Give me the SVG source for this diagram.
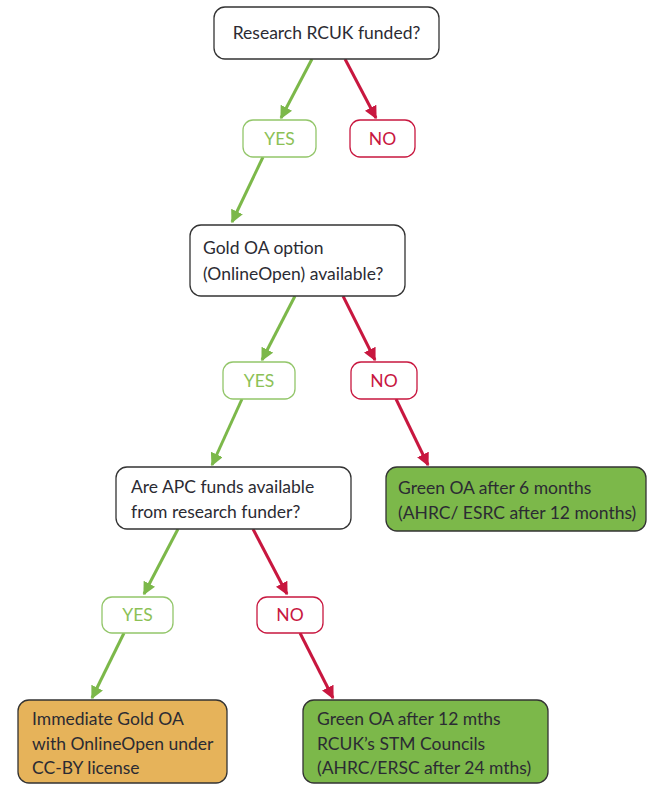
<svg xmlns="http://www.w3.org/2000/svg" width="648" height="785" viewBox="0 0 648 785">
<defs>
<marker id="ag" viewBox="0 0 10 10" refX="9" refY="5" markerWidth="4.3" markerHeight="4.3" orient="auto" markerUnits="strokeWidth"><path d="M0,0 L10,5 L0,10 z" fill="#7cb84a"/></marker>
<marker id="ar" viewBox="0 0 10 10" refX="9" refY="5" markerWidth="4.3" markerHeight="4.3" orient="auto" markerUnits="strokeWidth"><path d="M0,0 L10,5 L0,10 z" fill="#c8173f"/></marker>
<style>
text{font-family:Lato,"Open Sans",sans-serif;font-size:17.5px;fill:#2b2b33}
.q{fill:#fff;stroke:#333;stroke-width:1.3}
.y{fill:#fff;stroke:#93c66a;stroke-width:1.3}
.n{fill:#fff;stroke:#c8173f;stroke-width:1.3}
.yt{fill:#8cc156;text-anchor:middle}
.nt{fill:#c8173f;text-anchor:middle}
.gr{fill:#7cb84a;stroke:#333;stroke-width:1.3}
.or{fill:#e6b35a;stroke:#333;stroke-width:1.3}
.lg{stroke:#7cb84a;stroke-width:3;fill:none;marker-end:url(#ag)}
.lr{stroke:#c8173f;stroke-width:3;fill:none;marker-end:url(#ar)}
</style>
</defs>
<g id="connectors">
<line class="lg" x1="312" y1="59" x2="281" y2="118"/>
<line class="lr" x1="345" y1="59" x2="376" y2="118"/>
<line class="lg" x1="263" y1="157" x2="232" y2="222"/>
<line class="lg" x1="295" y1="296" x2="262" y2="360"/>
<line class="lr" x1="343" y1="296" x2="375" y2="360"/>
<line class="lg" x1="242" y1="399" x2="212" y2="465"/>
<line class="lr" x1="396" y1="399" x2="428" y2="465"/>
<line class="lg" x1="178" y1="529" x2="144" y2="594"/>
<line class="lr" x1="253" y1="529" x2="287" y2="594"/>
<line class="lg" x1="124" y1="633" x2="92" y2="698"/>
<line class="lr" x1="300" y1="633" x2="333" y2="698"/>
</g>
<g id="q1"><rect class="q" x="214" y="7" width="225" height="52" rx="11"/><text x="326.5" y="39" text-anchor="middle">Research RCUK funded?</text></g>
<g id="yes1"><rect class="y" x="243" y="120" width="73" height="37" rx="10"/><text class="yt" x="279.5" y="145">YES</text></g>
<g id="no1"><rect class="n" x="350" y="120" width="65" height="37" rx="10"/><text class="nt" x="382.5" y="145">NO</text></g>
<g id="q2"><rect class="q" x="190" y="225" width="215" height="71" rx="11"/><text x="203" y="254">Gold OA option</text><text x="203" y="280">(OnlineOpen) available?</text></g>
<g id="yes2"><rect class="y" x="223" y="362" width="72" height="37" rx="10"/><text class="yt" x="259" y="387">YES</text></g>
<g id="no2"><rect class="n" x="351" y="362" width="66" height="37" rx="10"/><text class="nt" x="384" y="387">NO</text></g>
<g id="q3"><rect class="q" x="116" y="467" width="235" height="62" rx="11"/><text x="131" y="493">Are APC funds available</text><text x="131" y="518">from research funder?</text></g>
<g id="green1"><rect class="gr" x="386" y="467" width="260" height="64" rx="11"/><text x="398" y="494">Green OA after 6 months</text><text x="398" y="519">(AHRC/ ESRC after 12 months)</text></g>
<g id="yes3"><rect class="y" x="102" y="597" width="71" height="36" rx="10"/><text class="yt" x="137.5" y="621">YES</text></g>
<g id="no3"><rect class="n" x="257" y="597" width="66" height="36" rx="10"/><text class="nt" x="290" y="621">NO</text></g>
<g id="gold"><rect class="or" x="18" y="700" width="209" height="83" rx="11"/><text x="32" y="725">Immediate Gold OA</text><text x="32" y="750">with OnlineOpen under</text><text x="32" y="774">CC-BY license</text></g>
<g id="green2"><rect class="gr" x="303" y="700" width="245" height="83" rx="11"/><text x="317" y="725">Green OA after 12 mths</text><text x="317" y="750">RCUK’s STM Councils</text><text x="317" y="774">(AHRC/ERSC after 24 mths)</text></g>
</svg>
